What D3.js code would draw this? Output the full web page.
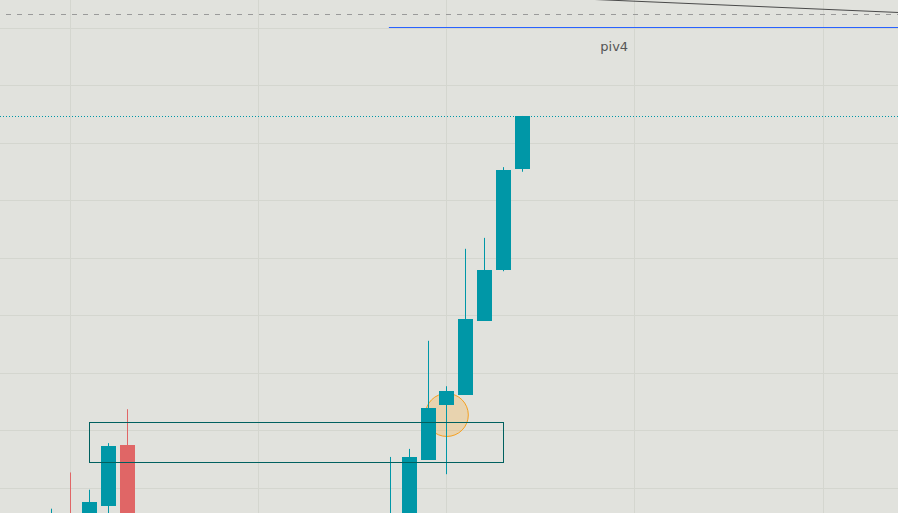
<!DOCTYPE html>
<html>
<head>
<meta charset="utf-8">
<script src="https://cdn.jsdelivr.net/npm/d3@7"></script>
<style>
  html, body { margin: 0; padding: 0; background: #e1e2dd; overflow: hidden; }
  svg { display: block; }
</style>
</head>
<body>
<div id="chart"></div>
<script>
const WIDTH = 898;
const HEIGHT = 513;

// candle data (bar index on the time axis, prices)
const barIndex = [0, 1, 2, 3, 4, 18, 19, 20, 21, 22, 23, 24, 25];
const opens  = [99.10, 99.50, 99.30, 99.69, 100.75, 99.20, 99.50, 100.49, 101.44, 101.62, 102.91, 103.79, 105.55];
const highs  = [99.64, 100.27, 99.97, 100.78, 101.37, 100.54, 100.68, 102.56, 101.77, 104.16, 104.35, 105.58, 106.47];
const lows   = [99.00, 99.10, 99.20, 99.40, 99.40, 99.10, 99.40, 100.49, 100.24, 101.62, 102.91, 103.77, 105.50];
const closes = [99.45, 99.20, 99.76, 100.73, 99.50, 99.50, 100.54, 101.39, 101.69, 102.94, 103.79, 105.53, 106.47];

// grid ticks
const priceTicks = [100, 101, 102, 103, 104, 105, 106, 107, 108];
const timeTicks = [1, 11, 21, 31, 41];

// drawings
const zoneBars = [2, 24];
const zonePrices = [100.45, 101.14];
const lastPrice = 106.47;
const dashedLevel = 108.24;
const pivotLevel = 108.01;
const pivotStart = 17.92;
const pivotLabel = "piv4";
const pivotLabelBar = 29.9;
const trendBars = [25, 45];
const trendPrices = [108.55, 108.27];
const markerBar = 21;
const markerPrice = 101.27;

const x = d3.scaleLinear().domain([0, 45]).range([51.81, 51.81 + 45 * 18.81]);
const y = d3.scaleLinear().domain([99.565, 108.487]).range([HEIGHT, 0]);

const candles = barIndex.map((b, i) => ({
    bar: b, open: opens[i], high: highs[i], low: lows[i], close: closes[i]
}));

const svg = d3.select("#chart").append("svg")
    .attr("width", WIDTH)
    .attr("height", HEIGHT);

svg.append("rect")
    .attr("width", WIDTH)
    .attr("height", HEIGHT)
    .attr("fill", "#e1e2dd");

const crisp = v => Math.round(v) + 0.5;

// grid
const grid = svg.append("g").attr("stroke", "#d4d6cf").attr("stroke-width", 1);
grid.selectAll("line.h")
    .data(priceTicks)
    .enter()
    .append("line")
    .attr("class", "h")
    .attr("x1", 0).attr("x2", WIDTH)
    .attr("y1", d => crisp(y(d))).attr("y2", d => crisp(y(d)));
grid.selectAll("line.v")
    .data(timeTicks)
    .enter()
    .append("line")
    .attr("class", "v")
    .attr("y1", 0).attr("y2", HEIGHT)
    .attr("x1", d => Math.floor(x(d)) + 0.5).attr("x2", d => Math.floor(x(d)) + 0.5);

// top lines
svg.append("line")
    .attr("x1", 6).attr("x2", WIDTH)
    .attr("y1", crisp(y(dashedLevel))).attr("y2", crisp(y(dashedLevel)))
    .attr("stroke", "#9a9a9a")
    .attr("stroke-dasharray", "5,6");

svg.append("line")
    .attr("x1", x(trendBars[0])).attr("x2", x(trendBars[1]))
    .attr("y1", y(trendPrices[0])).attr("y2", y(trendPrices[1]))
    .attr("stroke", "#4a4a4a")
    .attr("stroke-width", 1);

svg.append("line")
    .attr("x1", x(pivotStart)).attr("x2", WIDTH)
    .attr("y1", crisp(y(pivotLevel))).attr("y2", crisp(y(pivotLevel)))
    .attr("stroke", "#2962ff")
    .attr("stroke-width", 1);

svg.append("text")
    .attr("x", x(pivotLabelBar))
    .attr("y", y(pivotLevel) + 24)
    .attr("text-anchor", "middle")
    .attr("font-family", "DejaVu Sans, sans-serif")
    .attr("font-size", 13)
    .attr("fill", "#555")
    .text(pivotLabel);

// last price line
svg.append("line")
    .attr("x1", 0).attr("x2", WIDTH)
    .attr("y1", crisp(y(lastPrice))).attr("y2", crisp(y(lastPrice)))
    .attr("stroke", "#0097a7")
    .attr("stroke-dasharray", "1,2");

// marker circle (under the candles)
svg.append("circle")
    .attr("cx", x(markerBar))
    .attr("cy", y(markerPrice))
    .attr("r", 21.5)
    .attr("fill", "rgba(255,167,38,0.25)")
    .attr("stroke", "#f5a020")
    .attr("stroke-width", 1);

// candles
const color = d => d.close >= d.open ? "#0097a7" : "#e06666";
const cg = svg.append("g");
cg.selectAll("rect.wick")
    .data(candles)
    .enter()
    .append("rect")
    .attr("class", "wick")
    .attr("x", d => Math.floor(x(d.bar)))
    .attr("width", 1)
    .attr("y", d => y(d.high))
    .attr("height", d => y(d.low) - y(d.high))
    .attr("fill", color);
cg.selectAll("rect.body")
    .data(candles)
    .enter()
    .append("rect")
    .attr("class", "body")
    .attr("x", d => Math.round(x(d.bar) - 7.5))
    .attr("width", 15)
    .attr("y", d => Math.round(y(Math.max(d.open, d.close))))
    .attr("height", d => Math.max(1, Math.round(Math.abs(y(d.open) - y(d.close)))))
    .attr("fill", color);

// zone box
const bx0 = crisp(x(zoneBars[0]));
const bx1 = crisp(x(zoneBars[1]));
const by0 = crisp(y(zonePrices[1]));
const by1 = crisp(y(zonePrices[0]));
svg.append("rect")
    .attr("x", bx0)
    .attr("y", by0)
    .attr("width", bx1 - bx0)
    .attr("height", by1 - by0)
    .attr("fill", "none")
    .attr("stroke", "#00605f")
    .attr("stroke-width", 1);
</script>
</body>
</html>
